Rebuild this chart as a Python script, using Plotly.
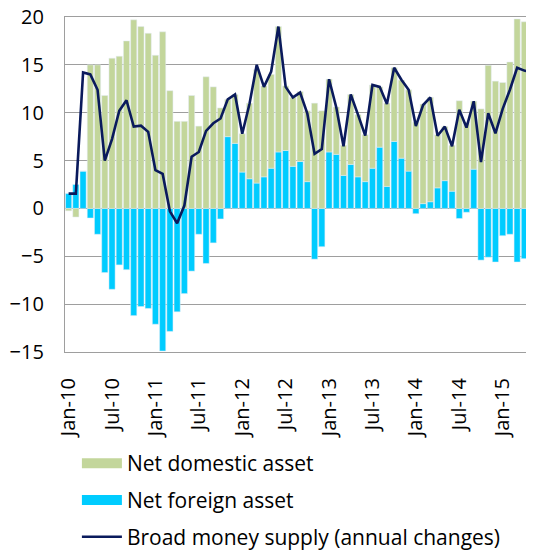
import pandas as pd
import plotly.graph_objects as go

months = [d.strftime("%b-%y") for d in pd.date_range("2010-01-01", "2015-05-01", freq="MS")]

net_foreign = [1.55, 2.5, 3.9, -1.0, -2.7, -6.7, -8.45, -5.9, -6.4, -11.2,
               -10.25, -10.45, -12.1, -14.9, -12.85, -10.8, -8.9, -6.55, -2.7, -5.75,
               -3.6, -1.1, 7.5, 6.8, 3.8, 3.1, 2.65, 3.3, 4.2, 5.9,
               6.05, 4.4, 4.9, 2.8, -5.3, -4.0, 5.9, 5.65, 3.45, 4.6,
               3.3, 2.8, 4.2, 6.4, 2.3, 7.0, 5.25, 3.9, -0.55, 0.5,
               0.7, 2.15, 2.9, 1.8, -1.05, -0.4, 4.1, -5.4, -5.1, -5.6,
               -2.85, -2.7, -5.6, -5.25, -6.0]

net_domestic = [-0.25, -0.9, 0.0, 15.0, 15.0, 11.8, 15.7, 15.9, 17.5, 19.7,
                19.0, 18.3, 16.0, 18.45, 12.3, 9.1, 9.1, 11.8, 8.6, 13.75,
                12.7, 10.5, 3.9, 5.1, 4.0, 7.9, 11.85, 9.5, 9.8, 13.1,
                6.75, 7.2, 7.3, 7.4, 11.0, 10.2, 7.6, 4.95, 3.15, 7.3,
                6.5, 4.9, 8.7, 6.3, 8.7, 7.7, 8.15, 8.5, 9.0, 10.4,
                10.9, 5.55, 5.65, 4.8, 11.25, 9.0, 7.1, 10.4, 14.95, 13.3,
                13.15, 15.3, 19.8, 19.5, 19.8]

broad_money = [1.55, 1.55, 14.2, 14.0, 12.4, 5.0, 7.25, 10.2, 11.3, 8.55,
               8.65, 8.0, 4.0, 3.6, -0.3, -1.55, 0.3, 5.4, 5.9, 8.1,
               8.9, 9.4, 11.4, 11.9, 7.8, 10.9, 15.0, 12.7, 14.3, 19.0,
               12.7, 11.6, 12.1, 9.9, 5.7, 6.2, 13.5, 10.55, 6.5, 11.9,
               9.8, 7.6, 12.9, 12.7, 10.9, 14.7, 13.45, 12.4, 8.6, 10.8,
               11.6, 7.6, 8.55, 6.5, 10.3, 8.45, 11.2, 4.85, 9.95, 7.85,
               10.4, 12.4, 14.7, 14.4, 14.2]

n = len(months)
xpos = list(range(n))
tick_idx = list(range(0, n, 6))
tick_labels = [months[i] for i in tick_idx]
boundary_ticks = [i + 5.5 for i in range(0, n - 6, 6)]

GREEN = "#C3D69B"
BLUE = "#00CCFF"
NAVY = "#0A1A5C"
GRID = "#9E9E9E"
FONT = "Open Sans"

fig = go.Figure()
fig.add_trace(go.Bar(x=xpos, y=net_foreign, marker_color=BLUE, name="Net foreign asset",
                     showlegend=False))
fig.add_trace(go.Bar(x=xpos, y=net_domestic, marker_color=GREEN, name="Net domestic asset",
                     showlegend=False))
fig.add_trace(go.Scatter(x=xpos, y=broad_money, mode="lines", line=dict(color=NAVY, width=2.6),
                         name="Broad money supply (annual changes)", showlegend=False))

# legend entries
fig.add_trace(go.Scatter(x=[0], y=[None], mode="lines", line=dict(color=GREEN, width=14),
                         name="Net domestic asset", legendgroup="a"))
fig.add_trace(go.Scatter(x=[0], y=[None], mode="lines", line=dict(color=BLUE, width=14),
                         name="Net foreign asset", legendgroup="b"))
fig.add_trace(go.Scatter(x=[0], y=[None], mode="lines", line=dict(color=NAVY, width=2.6),
                         name="Broad money supply (annual changes)", legendgroup="c"))

right_edge = 64.33

fig.update_layout(
    width=526, height=542,
    margin=dict(l=57, r=0, t=9, b=198, autoexpand=False),
    paper_bgcolor="white", plot_bgcolor="white",
    barmode="relative", bargap=0.15,
    font=dict(family=FONT, size=21, color="#000000"),
    xaxis=dict(range=[-0.5, right_edge], tickmode="array",
               tickvals=tick_idx, ticktext=tick_labels, tickangle=-90,
               showgrid=False, showline=True, mirror=True, linecolor=GRID, linewidth=1.3,
               zeroline=False, ticks="", ticklabelstandoff=17,
               tickfont=dict(size=20), automargin=False, ticklabeloverflow="allow"),
    yaxis=dict(range=[-15, 20], dtick=5, tick0=0, showgrid=True, gridcolor=GRID, gridwidth=1.3,
               zeroline=False, showline=True, linecolor=GRID, linewidth=1.3,
               ticks="", ticklabelstandoff=16, tickfont=dict(size=20), automargin=False,
               ticklabeloverflow="allow"),
    legend=dict(xref="container", yref="container", x=0.131, y=0.1974, xanchor="left", yanchor="top",
                itemwidth=40, tracegroupgap=6.5, font=dict(size=21), bgcolor="rgba(0,0,0,0)"),
)

fig.update_layout(
    xaxis2=dict(overlaying="x", anchor="free", position=15/35, range=[-0.5, right_edge],
                tickmode="array", tickvals=boundary_ticks,
                showticklabels=False, ticks="outside", ticklen=6, tickcolor=GRID, tickwidth=1.3,
                showline=True, linecolor=GRID, linewidth=1.3, showgrid=False, zeroline=False),
)

fig.write_html("out.html")
